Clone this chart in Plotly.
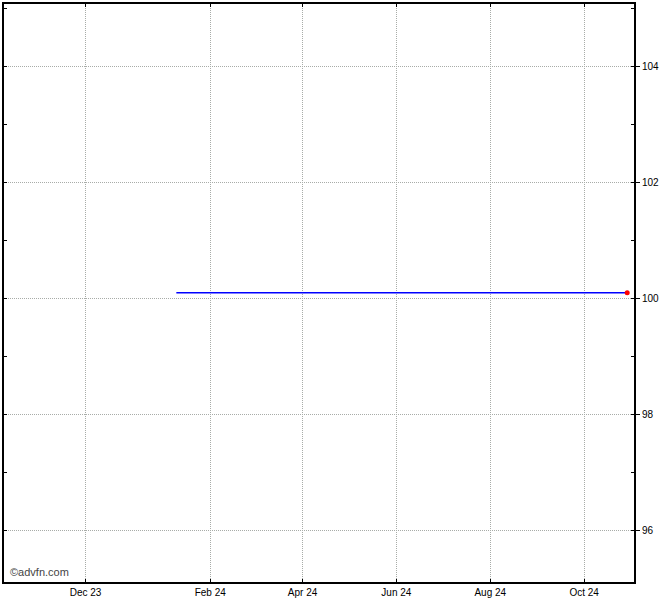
import plotly.graph_objects as go

# Data
dates = ["2024-01-10", "2024-02-01", "2024-03-01", "2024-04-01", "2024-05-01",
         "2024-06-01", "2024-07-01", "2024-08-01", "2024-09-01", "2024-10-01",
         "2024-10-29"]
prices = [100.1, 100.1, 100.1, 100.1, 100.1, 100.1, 100.1, 100.1, 100.1, 100.1, 100.1]

x_tick_vals = ["2023-11-12", "2024-02-01", "2024-04-01", "2024-06-01", "2024-08-01", "2024-10-01"]
x_tick_text = ["Dec 23", "Feb 24", "Apr 24", "Jun 24", "Aug 24", "Oct 24"]
y_tick_vals = [96, 98, 100, 102, 104]

x_range = ["2023-09-20", "2024-11-02 10:00"]
y_range = [95.105, 105.084]

font = dict(family="Liberation Sans, Arial, sans-serif", size=10, color="#000000")
grid_col = "#a8aca8"

fig = go.Figure()
fig.add_trace(go.Scatter(x=dates, y=prices, mode="lines",
                         line=dict(color="#0000ff", width=1.5),
                         hoverinfo="skip", showlegend=False))
fig.add_trace(go.Scatter(x=[dates[-1]], y=[prices[-1]], mode="markers",
                         marker=dict(color="#ff0000", size=5),
                         hoverinfo="skip", showlegend=False))
# invisible trace for left-side tick axis
fig.add_trace(go.Scatter(x=[dates[0]], y=[prices[0]], yaxis="y2", mode="markers",
                         marker=dict(opacity=0), hoverinfo="skip", showlegend=False))

fig.update_layout(
    width=670, height=600,
    margin=dict(l=3, r=36, t=2, b=18),
    paper_bgcolor="#ffffff", plot_bgcolor="#ffffff",
    font=font,
    xaxis=dict(
        type="date", range=x_range,
        tickmode="array", tickvals=x_tick_vals, ticktext=x_tick_text,
        showgrid=True, gridcolor=grid_col, griddash="1px,1px", gridwidth=1,
        showline=True, linecolor="#000000", linewidth=1.5, mirror="ticks",
        ticks="inside", ticklen=3, tickcolor="#000000",
        tickfont=font, zeroline=False, fixedrange=True,
    ),
    yaxis=dict(
        side="right", range=y_range,
        tickmode="array", tickvals=y_tick_vals,
        showgrid=True, gridcolor=grid_col, griddash="1px,1px", gridwidth=1,
        showline=True, linecolor="#000000", linewidth=2, mirror=True,
        ticks="outside", ticklen=4, tickcolor="#000000",
        minor=dict(dtick=1, tick0=95, ticks="inside", ticklen=3, tickcolor="#000000", showgrid=False),
        tickfont=font, zeroline=False, fixedrange=True,
    ),
    yaxis2=dict(
        overlaying="y", side="left", range=y_range,
        dtick=1, tick0=95, ticks="inside", ticklen=3, tickcolor="#000000",
        showticklabels=False, showgrid=False, zeroline=False, showline=False,
        fixedrange=True,
    ),
    annotations=[dict(
        text="©advfn.com", xref="paper", yref="paper", x=0.006, y=0.004,
        xanchor="left", yanchor="bottom", showarrow=False,
        font=dict(family="Liberation Sans, Arial, sans-serif", size=11, color="#444444"),
    )],
)

fig.write_html("out.html")
